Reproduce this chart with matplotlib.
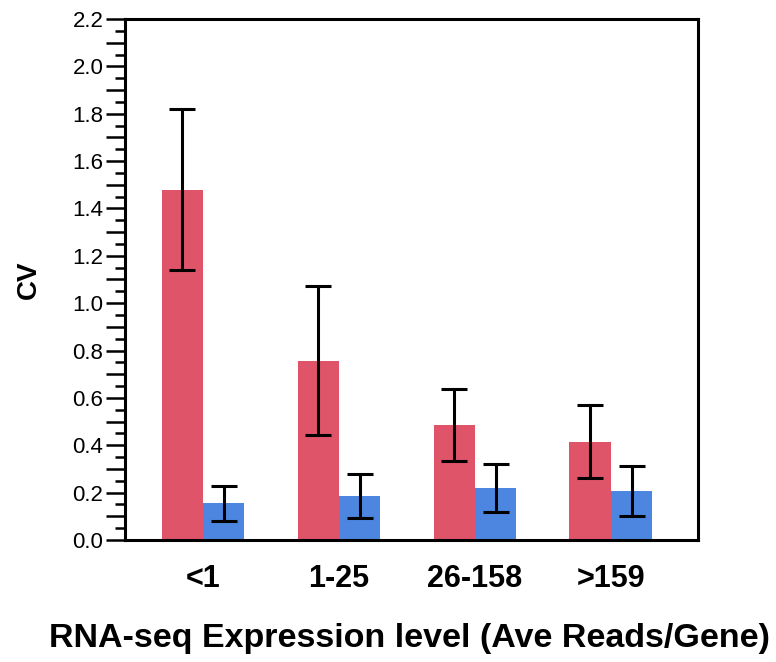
import matplotlib
matplotlib.use('Agg')
import matplotlib.pyplot as plt
import numpy as np
from matplotlib.ticker import MultipleLocator, FuncFormatter

categories = ['<1', '1-25', '26-158', '>159']
red_cv = [1.48, 0.757, 0.485, 0.415]
red_err = [0.34, 0.315, 0.153, 0.153]
blue_cv = [0.155, 0.187, 0.22, 0.207]
blue_err = [0.074, 0.093, 0.1, 0.105]

red = '#E05469'
blue = '#4C86E0'
sans = ['Liberation Sans', 'DejaVu Sans']

fig = plt.figure(figsize=(7.76, 6.62), dpi=100)
ax = fig.add_axes([0.161, 0.1843, 0.7385, 0.787])

x = np.arange(len(categories))
w = 0.305
ax.bar(x - w / 2, red_cv, w, color=red, yerr=red_err, capsize=9.5,
       error_kw=dict(elinewidth=2.2, capthick=2.2, ecolor='black'))
ax.bar(x + w / 2, blue_cv, w, color=blue, yerr=blue_err, capsize=9.5,
       error_kw=dict(elinewidth=2.2, capthick=2.2, ecolor='black'))

ax.set_xlim(-0.574, 3.64)
ax.set_ylim(0, 2.2)

for s in ax.spines.values():
    s.set_linewidth(2.2)

ax.yaxis.set_major_locator(MultipleLocator(0.1))
ax.yaxis.set_minor_locator(MultipleLocator(0.05))


def fmt(v, pos):
    k = int(round(v * 10))
    return '%.1f' % v if k % 2 == 0 else ''


ax.yaxis.set_major_formatter(FuncFormatter(fmt))
ax.tick_params(axis='y', which='major', direction='out', length=14, width=1.8,
               pad=1.5, labelsize=16)
ax.tick_params(axis='y', which='minor', direction='out', length=7, width=1.8)
for lab in ax.get_yticklabels():
    lab.set_family(sans)

ax.set_xticks(x)
ax.set_xticklabels(categories, fontsize=22, fontweight='bold', family=sans)
ax.tick_params(axis='x', length=0, pad=17)

ax.set_ylabel('CV', fontsize=20, fontweight='bold', family=sans, labelpad=22)
ax.set_xlabel('RNA-seq Expression level (Ave Reads/Gene)', fontsize=24.5,
              fontweight='bold', family=sans)
ax.xaxis.set_label_coords(0.497, -0.159)

fig.savefig('out.png', dpi=100)
